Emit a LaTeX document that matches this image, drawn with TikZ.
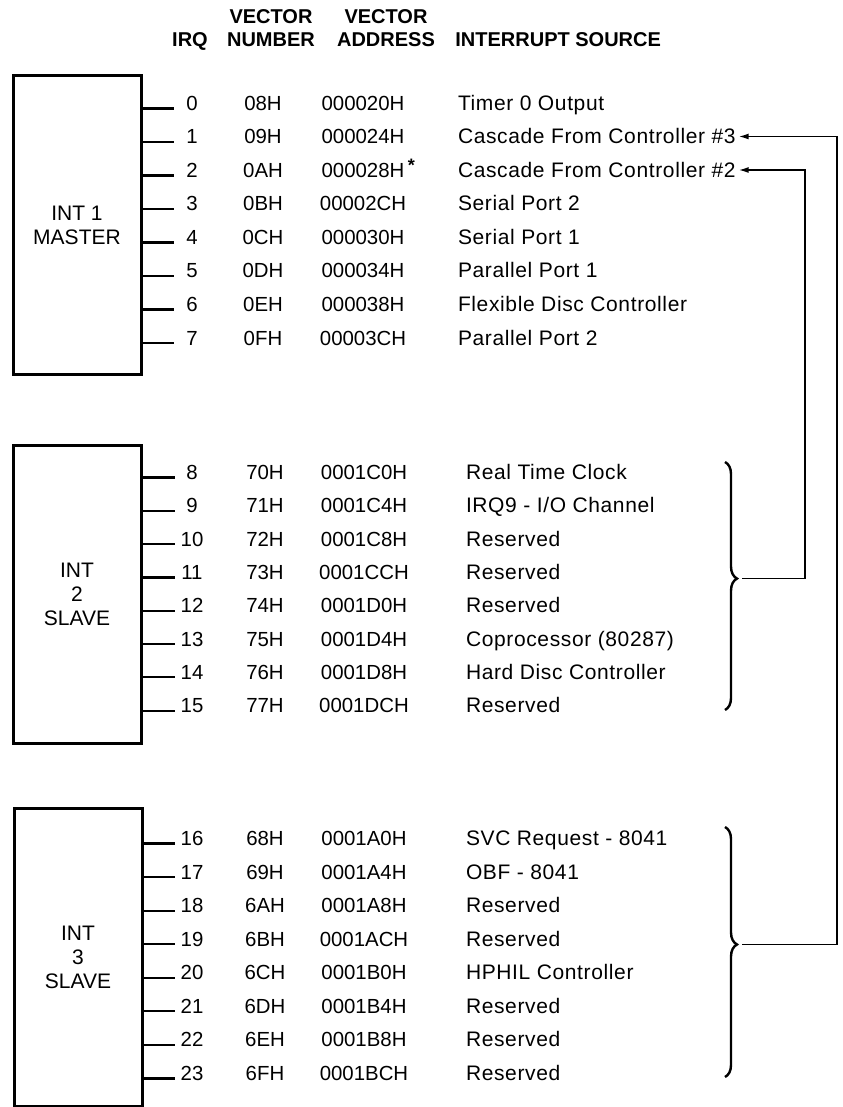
\documentclass[tikz,border=0pt]{standalone}
\usepackage{fontspec}
\setmainfont{Liberation Sans}
\newfontfamily\srcfont[LetterSpace=3]{Liberation Sans}
\usetikzlibrary{arrows.meta,decorations.pathreplacing}
\begin{document}
\begin{tikzpicture}[x=0.5pt,y=-0.5pt,
  chip/.style={draw, line width=1.5pt, minimum width=64pt, minimum height=149pt,
    align=center, inner sep=0pt, font=\fontsize{10.5}{12}\selectfont},
  pinline/.style={line width=1.1pt},
  cell/.style={anchor=base, inner sep=0pt, font=\fontsize{10.2}{12}\selectfont},
  src/.style={anchor=base west, inner sep=0pt, outer xsep=1.5pt, font=\fontsize{10.5}{12}\srcfont},
  hdr/.style={anchor=base, inner sep=0pt, font=\fontsize{10}{12}\selectfont\bfseries},
  link/.style={line width=0.8pt, -{Latex[length=5pt,width=3pt]}},
  brc/.style={decorate, decoration={brace, amplitude=6pt, aspect=0.47}, line width=1.2pt}]
\useasboundingbox (0,0) rectangle (842,1107);

% header
\node[hdr] (h1) at (271,24) {VECTOR};
\node[hdr] (h2) at (386,24) {VECTOR};
\node[hdr] (h3) at (190,47) {IRQ};
\node[hdr] (h4) at (271,47) {NUMBER};
\node[hdr] (h5) at (386,47) {ADDRESS};
\node[hdr, anchor=base west] (h6) at (455,47) {INTERRUPT SOURCE};

% boxes
\node[chip] (m) at (77,225) {INT 1\\MASTER};
\node[chip] (s2) at (77,594) {INT\\2\\SLAVE};
\node[chip] (s3) at (78,957.5) {INT\\3\\SLAVE};

% master rows
\foreach \i/\v/\a/\s in {0/08H/000020H/Timer 0 Output,
  1/09H/000024H/Cascade From Controller \#3,
  2/0AH/{000028H\rlap{\,\raisebox{0.55ex}{\fontsize{9}{9}\selectfont\bfseries *}}}/Cascade From Controller \#2,
  3/0BH/00002CH/Serial Port 2,
  4/0CH/000030H/Serial Port 1,
  5/0DH/000034H/Parallel Port 1,
  6/0EH/000038H/Flexible Disc Controller,
  7/0FH/00003CH/Parallel Port 2}{
  \pgfmathsetmacro\y{110.5+\i*33.5}
  \coordinate (p\i) at (174,\y-2);
  \draw[pinline] (m.east |- p\i) -- (p\i);
  \node[cell] (irq\i) at (192,\y) {\i};
  \node[cell] (vn\i) at (263,\y) {\v};
  \node[cell] (va\i) at (363,\y) {\a};
  \node[src] (src\i) at (455,\y) {\s};
}

% slave 2 rows
\foreach \i/\v/\a/\s in {8/70H/0001C0H/Real Time Clock,
  9/71H/0001C4H/{IRQ9 - I/O Channel},
  10/72H/0001C8H/Reserved,
  11/73H/0001CCH/Reserved,
  12/74H/0001D0H/Reserved,
  13/75H/0001D4H/Coprocessor (80287),
  14/76H/0001D8H/Hard Disc Controller,
  15/77H/0001DCH/Reserved}{
  \pgfmathsetmacro\y{479.5+(\i-8)*33.3}
  \coordinate (p\i) at (175,\y-2);
  \draw[pinline] (s2.east |- p\i) -- (p\i);
  \node[cell] (irq\i) at (192,\y) {\i};
  \node[cell] (vn\i) at (265,\y) {\v};
  \node[cell] (va\i) at (364,\y) {\a};
  \node[src] (src\i) at (463,\y) {\s};
}

% slave 3 rows
\foreach \i/\v/\a/\s in {16/68H/0001A0H/SVC Request - 8041,
  17/69H/0001A4H/OBF - 8041,
  18/6AH/0001A8H/Reserved,
  19/6BH/0001ACH/Reserved,
  20/6CH/0001B0H/HPHIL Controller,
  21/6DH/0001B4H/Reserved,
  22/6EH/0001B8H/Reserved,
  23/6FH/0001BCH/Reserved}{
  \pgfmathsetmacro\y{845.5+(\i-16)*33.57}
  \coordinate (p\i) at (175,\y-2);
  \draw[pinline] (s3.east |- p\i) -- (p\i);
  \node[cell] (irq\i) at (192,\y) {\i};
  \node[cell] (vn\i) at (265,\y) {\v};
  \node[cell] (va\i) at (364,\y) {\a};
  \node[src] (src\i) at (463,\y) {\s};
}

% braces
\coordinate (b2a) at (725,462);
\coordinate (b2b) at (725,710);
\coordinate (b3a) at (725,827);
\coordinate (b3b) at (725,1077);
\draw[brc] (b2a) -- (b2b);
\draw[brc] (b3a) -- (b3b);
\coordinate (t2) at (742,578.6);
\coordinate (t3) at (742,944.5);

% cascade connectors
\coordinate (rail2) at (805,0);
\coordinate (rail3) at (837,0);
\draw[link] (t2) -- (t2 -| rail2) |- (src2.east);
\draw[link] (t3) -- (t3 -| rail3) |- (src1.east);
\end{tikzpicture}
\end{document}
